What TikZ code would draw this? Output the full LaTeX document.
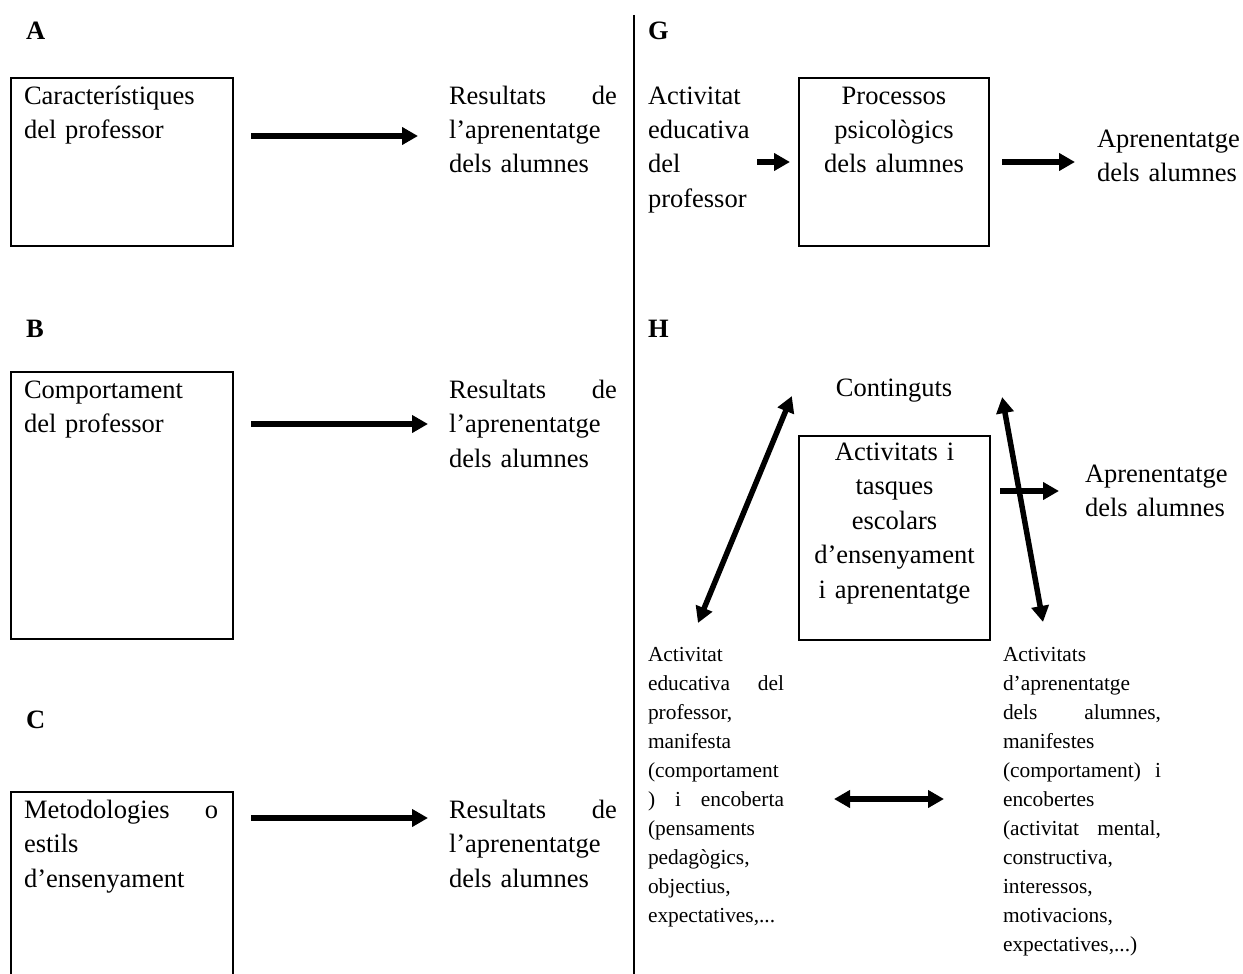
\documentclass[tikz,border=0pt]{standalone}
\usepackage{fontspec}
\setmainfont{Liberation Serif}
\usetikzlibrary{arrows.meta,calc}
\newcommand{\bigtxt}{\fontsize{26.5}{34.5}\selectfont}
\newcommand{\smalltxt}{\fontsize{21.4}{29}\selectfont}
% a line spread over a given width, its words pushed apart
\newcommand{\spread}[2]{\leavevmode\hbox to #1{#2}}
\begin{document}
\begin{tikzpicture}[x=1pt,y=-1pt,
  panel/.style={draw, line width=2pt, inner sep=0, outer sep=0, anchor=north west},
  txt/.style={inner sep=0, outer sep=0, anchor=north west, align=left, font=\bigtxt, execute at begin node=\strut},
  ctxt/.style={txt, anchor=north, align=center},
  stxt/.style={inner sep=0, outer sep=0, anchor=north west, align=left, font=\smalltxt, execute at begin node=\strut},
  lbl/.style={inner sep=0, anchor=base west, font=\bigtxt\bfseries},
  link/.style={line width=5.5pt, -{Triangle[length=16pt,width=17pt]}},
  twoway/.style={line width=5.5pt, {Triangle[length=16pt,width=17pt]}-{Triangle[length=16pt,width=17pt]}},
  divider/.style={line width=2pt},
]
\useasboundingbox (0,0) rectangle (1243,974);

% ---- A ----
\node[lbl] (lblA) at (26,40) {A};
\node[panel, minimum width=222pt, minimum height=168pt] (boxA) at (11,78) {};
\node[txt, text width=200pt] (txtA) at (24,79.85) {Característiques\\del professor};
\node[txt, text width=168pt] (resA) at (449,79.85)
  {\spread{168pt}{Resultats\hfill de}\\l’aprenentatge\\dels alumnes};
\draw[link] ([shift={(18,-26)}]boxA.east) coordinate (a1) -- ($(a1 -| resA.west)+(-31,0)$);

% ---- B ----
\node[lbl] (lblB) at (26,337) {B};
\node[panel, minimum width=222pt, minimum height=267pt] (boxB) at (11,372) {};
\node[txt, text width=200pt] (txtB) at (24,373.85) {Comportament\\del professor};
\node[txt, text width=168pt] (resB) at (449,373.85)
  {\spread{168pt}{Resultats\hfill de}\\l’aprenentatge\\dels alumnes};
\draw[link] ([shift={(18,-81.5)}]boxB.east) coordinate (b1) -- ($(b1 -| resB.west)+(-21,0)$);

% ---- C ----
\node[lbl] (lblC) at (26,728) {C};
\node[panel, minimum width=222pt, minimum height=184pt] (boxC) at (11,792) {};
\node[txt, text width=194pt] (txtC) at (24,793.85)
  {\spread{194pt}{Metodologies\hfill o}\\estils\\d’ensenyament};
\node[txt, text width=168pt] (resC) at (449,793.85)
  {\spread{168pt}{Resultats\hfill de}\\l’aprenentatge\\dels alumnes};
\draw[link] ([shift={(18,-66)}]boxC.east) coordinate (c1) -- ($(c1 -| resC.west)+(-21,0)$);

% ---- divider ----
\coordinate (divtop) at (634,15);
\coordinate (divbot) at (634,974);
\draw[divider] (divtop) -- (divbot);

% ---- G ----
\node[lbl] (lblG) at (648,40) {G};
\node[txt, text width=102pt] (actG) at (648,79.85) {Activitat\\educativa\\del\\professor};
\node[panel, minimum width=190pt, minimum height=168pt] (boxG) at (799,78) {};
\node[ctxt, text width=185pt] (txtG) at (894,79.85) {Processos\\psicològics\\dels alumnes};
\node[txt, text width=146pt] (aprG) at (1097,122.85) {Aprenentatge\\dels alumnes};
\draw[link] ($(actG.east |- boxG.west)+(7,0)$) -- ($(boxG.west)+(-9,0)$);
\draw[link] ($(boxG.east)+(13,0)$) -- ($(boxG.east -| aprG.west)+(-22,0)$);

% ---- H ----
\node[lbl] (lblH) at (648,337) {H};
\node[ctxt] (contH) at (894,371.85) {Continguts};
\node[panel, minimum width=191pt, minimum height=204pt] (boxH) at (799,436) {};
\node[ctxt, text width=185pt] (txtH) at (894.5,435.85)
  {Activitats i\\tasques\\escolars\\d’ensenyament\\i aprenentatge};
\node[txt, text width=150pt] (aprH) at (1085,457.85) {Aprenentatge\\dels alumnes};

\node[stxt, text width=136pt] (eduH) at (648,640.7)
  {Activitat\\
   \spread{136pt}{educativa\hfill del}\\
   professor,\\
   manifesta\\
   (comportament\\
   \spread{136pt}{)\hfill i\hfill encoberta}\\
   (pensaments\\
   pedagògics,\\
   objectius,\\
   expectatives,...};
\node[stxt, text width=158pt] (stuH) at (1003,640.7)
  {Activitats\\
   d’aprenentatge\\
   \spread{158pt}{dels\hfill alumnes,}\\
   manifestes\\
   \spread{158pt}{(comportament)\hfill i}\\
   encobertes\\
   \spread{158pt}{(activitat\hfill mental,}\\
   constructiva,\\
   interessos,\\
   motivacions,\\
   expectatives,...)};

\draw[twoway] ($(eduH.north west)+(50,-17.7)$) -- ($(contH.west)+(-44,7)$);
\draw[twoway] ($(contH.east)+(50,8)$) -- ($(stuH.north west)+(40,-18.7)$);
\draw[link] ($(boxH.east)+(10,-47)$) coordinate (h1) -- ($(h1 -| aprH.west)+(-26,0)$);
\draw[twoway] ($(eduH.north east)+(50,158.3)$) -- ($(stuH.north west)+(-59,158.3)$);
\end{tikzpicture}
\end{document}
